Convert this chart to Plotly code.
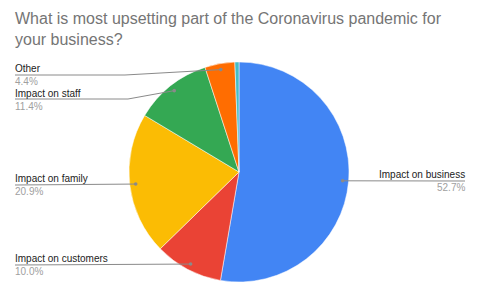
import math
import plotly.graph_objects as go

# ---- data ----
labels = ["Impact on business", "Impact on customers", "Impact on family",
          "Impact on staff", "Other", "Unlisted"]
values = [52.7, 10.0, 20.9, 11.4, 4.4, 0.6]
pct_text = ["52.7%", "10.0%", "20.9%", "11.4%", "4.4%", ""]
colors = ["#4285F4", "#EA4335", "#FBBC04", "#34A853", "#FF6D01", "#46BDC6"]
title_lines = ["What is most upsetting part of the Coronavirus pandemic for",
               "your business?"]

W, H = 480, 297
CX, CY, R = 239, 172, 110
DOT_R = 104

fig = go.Figure()
fig.add_trace(go.Pie(
    labels=labels, values=values, sort=False, direction="clockwise",
    rotation=0, marker=dict(colors=colors, line=dict(color="white", width=0.5)),
    textinfo="none", showlegend=False,
    domain=dict(x=[(CX - R) / W, (CX + R) / W], y=[1 - (CY + R) / H, 1 - (CY - R) / H]),
))

# compute dot positions from slice mid-angles
total = sum(values)
dots = []
acc = 0
for v in values:
    mid = (acc + v / 2) / total * 2 * math.pi
    dots.append((CX + DOT_R * math.sin(mid), CY - DOT_R * math.cos(mid)))
    acc += v

# label layout: (side, label y, line y, elbow x)
layout_spec = {
    0: ("right", 174, 181, None),
    1: ("left", 258, 265, None),
    2: ("left", 178, 185, None),
    3: ("left", 93, 99, 128),
    4: ("left", 68, 75, 125),
}

shapes = []
annotations = []
LC = "#8a8a8a"
for i, (side, ly, liney, elbow) in layout_spec.items():
    dx, dy = dots[i]
    if side == "left":
        if elbow is None:
            path = f"M 15 {liney} L {dx} {dy}"
        else:
            path = f"M 15 {liney} L {elbow} {liney} L {dx} {dy}"
        tx, anchor = 13, "left"
    else:
        path = f"M {dx} {dy} L 465 {liney}"
        tx, anchor = 467, "right"
    shapes.append(dict(type="path", path=path, xref="x", yref="y",
                       line=dict(color=LC, width=1)))
    shapes.append(dict(type="circle", xref="x", yref="y",
                       x0=dx - 1.8, x1=dx + 1.8, y0=dy - 1.8, y1=dy + 1.8,
                       fillcolor=LC, line=dict(width=0)))
    annotations.append(dict(x=tx, y=ly, xref="x", yref="y", text=labels[i],
                            showarrow=False, xanchor=anchor, yanchor="middle",
                            font=dict(size=10, color="#222222")))
    annotations.append(dict(x=tx, y=ly + 13, xref="x", yref="y", text=pct_text[i],
                            showarrow=False, xanchor=anchor, yanchor="middle",
                            font=dict(size=10, color="#a0a0a0")))

annotations.append(dict(x=13, y=18, xref="x", yref="y", text=title_lines[0],
                        showarrow=False, xanchor="left", yanchor="middle",
                        font=dict(size=16, color="#757575")))
annotations.append(dict(x=13, y=39, xref="x", yref="y", text=title_lines[1],
                        showarrow=False, xanchor="left", yanchor="middle",
                        font=dict(size=16, color="#757575")))

fig.update_layout(
    width=W, height=H, margin=dict(l=0, r=0, t=0, b=0),
    paper_bgcolor="white", plot_bgcolor="rgba(0,0,0,0)",
    font=dict(family="Liberation Sans, Arial, sans-serif"),
    xaxis=dict(range=[0, W], visible=False, fixedrange=True),
    yaxis=dict(range=[H, 0], visible=False, fixedrange=True),
    shapes=shapes, annotations=annotations,
)
fig.write_html("out.html")
